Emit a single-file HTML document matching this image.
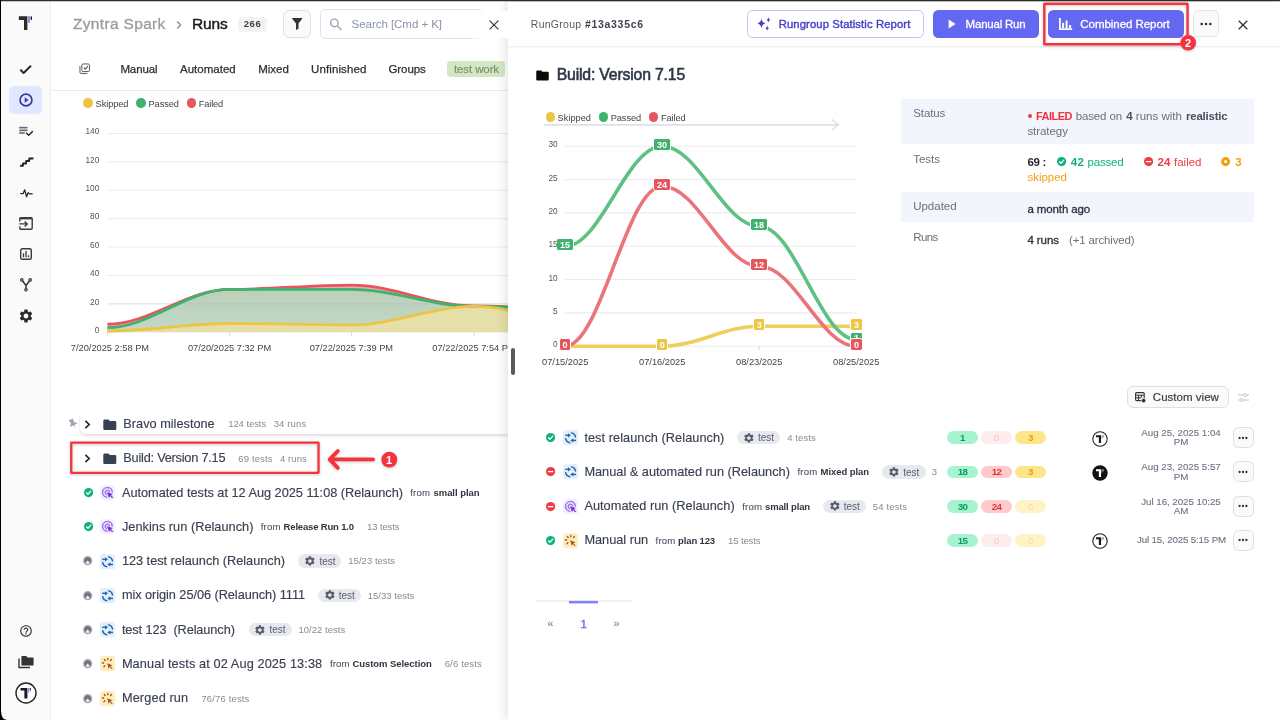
<!DOCTYPE html>
<html>
<head>
<meta charset="utf-8">
<title>Runs</title>
<style>
*{box-sizing:border-box;margin:0;padding:0}
html,body{width:1280px;height:720px;overflow:hidden;background:#fff}
body{font-family:"Liberation Sans",sans-serif;color:#1f2937;position:relative}
.a{position:absolute}
.t{position:absolute;white-space:pre;line-height:20px;height:20px}
svg{position:absolute;overflow:visible}
#frameTop{left:0;top:0;width:1280px;height:2px;background:linear-gradient(#2e2e2e 0,#2e2e2e 50%,rgba(46,46,46,.28) 50%,rgba(46,46,46,.28) 100%);z-index:50}
#frameLeft{left:0;top:0;width:1px;height:720px;background:#000;z-index:50;box-shadow:0 0 .6px rgba(0,0,0,.6)}
#sidebar{left:1px;top:2px;width:50px;height:718px;background:#fafafa;border-right:1px solid #efefef}
#left{left:0;top:0;width:510px;height:720px;overflow:hidden;z-index:1;will-change:transform}
#rightbg{left:508px;top:2px;width:772px;height:718px;background:#fff;box-shadow:-4px 0 8px rgba(0,0,0,.09);z-index:10}
#right{left:0;top:0;width:1280px;height:720px;z-index:11;will-change:transform}
</style>
</head>
<body>
<div class="a" id="frameTop"></div>
<div class="a" id="frameLeft"></div>
<svg style="left:0;top:712px;z-index:51" width="8" height="8" viewBox="0 0 8 8"><path d="M0 0 V8 H7 Q1.300 7.500 1.200 0Z" fill="#000"/></svg>
<div class="a" id="sidebar"></div>
<div class="a" id="sb" style="left:0;top:0;width:51px;height:720px;z-index:2">
  <!-- logo -->
  <svg style="left:18px;top:15px" width="16" height="16" viewBox="0 0 16 16">
    <path d="M1.2 1.2 H9.4 V14.6 Q9.4 15 9 15 H6.4 Q6 15 6 14.600 V5 H1.200 Q0.800 5 0.800 4.600 V1.600 Q0.800 1.200 1.200 1.200Z" fill="#2b2b2b"/>
    <rect x="10" y="1.200" width="2" height="6.600" fill="#8b93f8"/>
    <rect x="12.600" y="1.200" width="1.400" height="3.800" rx=".6" fill="#222"/>
  </svg>
  <!-- check -->
  <svg style="left:18.400px;top:62.200px" width="15" height="15" viewBox="0 0 24 24"><path d="M9 16.170L4.830 12l-1.420 1.410L9 19 21 7l-1.410-1.410z" fill="#222" stroke="#222" stroke-width="1.600"/></svg>
  <!-- active -->
  <div class="a" style="left:9px;top:86px;width:33px;height:28px;border-radius:5px;background:#e0e7ff"></div>
  <svg style="left:17.600px;top:91.700px" width="16" height="16" viewBox="0 0 24 24"><circle cx="12" cy="12" r="8.900" fill="none" stroke="#3d35a8" stroke-width="2.500"/><path d="M10 16.300l5.800-4.300-5.800-4.300z" fill="#3d35a8"/></svg>
  <!-- playlist check -->
  <svg style="left:18px;top:123px" width="16" height="16" viewBox="0 0 24 24"><path d="M14 10H2v2h12v-2zm0-4H2v2h12V6zM2 16h8v-2H2v2z" fill="#6a6a6a" stroke="#6a6a6a" stroke-width=".5"/><path d="M21.500 11.500L23 13l-6.990 7-4.510-4.500L13 14l3.010 3 5.490-5.500z" fill="#222"/></svg>
  <!-- stairs -->
  <svg style="left:19.500px;top:156px" width="13" height="12" viewBox="0 0 13 12"><path d="M0.500 9.800 H3.200 V7.400 H5.900 V5 H8.600 V2.600 H12.600" fill="none" stroke="#222" stroke-width="2" stroke-linejoin="miter" transform="skewX(-10) translate(1.300 0)"/></svg>
  <!-- pulse -->
  <svg style="left:19.500px;top:186.500px" width="13" height="13" viewBox="0 0 13 13"><path d="M0.700 6.600 H3.200 L4.700 2.800 L6.600 9.800 L8.100 5.600 L9.300 6.900 H12.200" fill="none" stroke="#2a2a2a" stroke-width="1.300" stroke-linejoin="round" stroke-linecap="round"/></svg>
  <!-- import -->
  <svg style="left:19px;top:217px" width="14" height="13" viewBox="0 0 14 13"><path d="M0.800 4.600 V2 Q0.800 0.800 2 0.800 H12 Q13.200 0.800 13.200 2 V11 Q13.200 12.200 12 12.200 H2 Q0.800 12.200 0.800 11 V9.200" fill="none" stroke="#3a3a3a" stroke-width="1.400"/><rect x="0.800" y="0.800" width="12.400" height="1.600" fill="#3a3a3a"/><path d="M0.300 6.900 H8 M5.600 4.400 L8.200 6.900 L5.600 9.400" fill="none" stroke="#3a3a3a" stroke-width="1.400"/></svg>
  <!-- chart box -->
  <svg style="left:20px;top:248px" width="12" height="12" viewBox="0 0 12 12"><rect x="0.700" y="0.700" width="10.600" height="10.600" rx="1.600" fill="none" stroke="#3a3a3a" stroke-width="1.400"/><path d="M3.500 9.300 V5.200 M6 9.300 V2.900 M8.500 9.300 V7.200" stroke="#3a3a3a" stroke-width="1.300" fill="none"/></svg>
  <!-- fork -->
  <svg style="left:20px;top:278px" width="12" height="14" viewBox="0 0 12 14"><path d="M1.800 2 L6 7.500 L10.200 2 M6 7.500 V11.500" fill="none" stroke="#333" stroke-width="1.500"/><circle cx="1.800" cy="1.900" r="1.200" fill="#fafafa" stroke="#333" stroke-width="1.200"/><circle cx="10.200" cy="1.900" r="1.200" fill="#fafafa" stroke="#333" stroke-width="1.200"/><circle cx="6" cy="11.800" r="1.200" fill="#fafafa" stroke="#333" stroke-width="1.200"/></svg>
  <!-- gear -->
  <svg style="left:18px;top:308px" width="16" height="16" viewBox="0 0 24 24"><path d="M19.140 12.940c.040-.300.060-.610.060-.940 0-.320-.020-.640-.070-.940l2.030-1.580c.180-.140.230-.410.120-.610l-1.920-3.320c-.120-.220-.370-.290-.590-.220l-2.390.960c-.500-.380-1.030-.700-1.620-.940l-.360-2.540c-.040-.240-.240-.410-.480-.410h-3.840c-.240 0-.430.170-.470.410l-.360 2.540c-.590.240-1.130.570-1.620.940l-2.390-.960c-.220-.080-.470 0-.590.220L2.740 8.870c-.120.210-.080.470.120.610l2.030 1.580c-.050.300-.090.630-.090.940s.020.640.070.940l-2.030 1.580c-.180.140-.230.410-.120.610l1.920 3.320c.120.220.370.290.590.220l2.390-.960c.500.380 1.030.700 1.620.940l.360 2.540c.050.240.240.410.480.410h3.840c.240 0 .440-.170.470-.410l.360-2.540c.590-.240 1.130-.560 1.620-.940l2.390.960c.220.080.470 0 .590-.220l1.920-3.320c.120-.220.070-.470-.120-.610l-2.010-1.580zM12 15.600c-1.980 0-3.600-1.620-3.600-3.600s1.620-3.600 3.600-3.600 3.600 1.620 3.600 3.600-1.620 3.600-3.600 3.600z" fill="#2b2b2b"/></svg>
  <!-- help -->
  <svg style="left:19px;top:624px" width="14" height="14" viewBox="0 0 24 24"><path d="M11 18h2v-2h-2v2zm1-16C6.480 2 2 6.480 2 12s4.480 10 10 10 10-4.480 10-10S17.520 2 12 2zm0 18c-4.410 0-8-3.590-8-8s3.590-8 8-8 8 3.590 8 8-3.590 8-8 8zm0-14c-2.210 0-4 1.790-4 4h2c0-1.100.900-2 2-2s2 .900 2 2c0 2-3 1.750-3 5h2c0-2.250 3-2.500 3-5 0-2.210-1.790-4-4-4z" fill="#333"/></svg>
  <!-- folders -->
  <svg style="left:18px;top:655px" width="16" height="14" viewBox="0 0 16 14"><path d="M1 3.500 V12.500 H12" fill="none" stroke="#333" stroke-width="1.400"/><path d="M4 1 H8.200 L9.600 2.600 H15 Q15.600 2.600 15.600 3.200 V10 Q15.600 10.600 15 10.600 H4 Q3.400 10.600 3.400 10 V1.600 Q3.400 1 4 1Z" fill="#333"/></svg>
  <!-- avatar -->
  <svg style="left:14.800px;top:681.600px" width="22" height="22" viewBox="0 0 22 22"><circle cx="11" cy="11" r="10" fill="#fff" stroke="#222" stroke-width="1.400"/><path d="M5.500 6 H12.400 V16.600 H9.400 V8.600 H5.500Z" fill="#1a1a1a"/><rect x="13" y="6" width="1.300" height="4.600" fill="#8b93f8"/><rect x="14.800" y="6" width="1" height="2.600" fill="#222"/></svg>
</div>

<!-- LEFT PANEL -->
<div class="a" id="left">
<span class="t" style="left:72.90px;top:14.20px;font-size:15.5px;color:#9b9b9b;letter-spacing:0.339px;-webkit-text-stroke:0.3px #9b9b9b;">Zyntra Spark</span>
<svg style="left:176px;top:19.500px" width="6" height="10" viewBox="0 0 6 10"><path d="M1.200 1.500 L4.600 5 L1.200 8.500" fill="none" stroke="#8a8a8a" stroke-width="1.300"/></svg>
<span class="t" style="left:192.00px;top:14.20px;font-size:15.5px;color:#1b1b1b;letter-spacing:-0.147px;-webkit-text-stroke:0.45px #1b1b1b;">Runs</span>
<div class="a" style="left:238px;top:17px;width:29px;height:14.600px;border-radius:4px;background:#f3f3f4"></div>
<span class="t" style="left:243.75px;top:14.40px;font-size:9.5px;color:#3f3f46;font-weight:700;letter-spacing:0.547px;">266</span>
<div class="a" style="left:283.300px;top:10.400px;width:27.300px;height:27.800px;border-radius:6px;background:#fafafa;border:1px solid #dfdfdf"></div>
<svg style="left:291.600px;top:18.300px" width="10.400" height="12" viewBox="0 0 10.400 12"><path d="M0.500 0 H9.900 Q10.600 0.100 10.200 0.800 L6.500 5.400 V10.800 L4 12 V5.400 L0.200 0.800 Q-0.200 0.100 0.500 0Z" fill="#353535"/></svg>
<div class="a" style="left:320.200px;top:9.400px;width:164px;height:29.600px;border-radius:5.500px;background:#fff;border:1px solid #dbdfe9"></div>
<svg style="left:329px;top:17px" width="14" height="14" viewBox="0 0 14 14"><circle cx="5.400" cy="5.900" r="3.800" fill="none" stroke="#9ba5b8" stroke-width="1.400"/><path d="M8.200 8.700 L12.500 13" stroke="#9ba5b8" stroke-width="1.500" fill="none"/></svg>
<span class="t" style="left:351.60px;top:14.40px;font-size:11.5px;color:#8a94a8;letter-spacing:-0.043px;">Search [Cmd + K]</span>
<div class="a" style="left:466px;top:10.400px;width:16px;height:28.600px;background:linear-gradient(90deg,rgba(255,255,255,0),rgba(255,255,255,.85))"></div>
<div class="a" style="left:480.500px;top:10.600px;width:30px;height:27.800px;border-radius:5px;background:#fff"></div>
<svg style="left:78.800px;top:63px" width="11.400" height="11.400" viewBox="0 0 12 12"><path d="M1 3.200 V10 Q1 11 2 11 H8.800" fill="none" stroke="#555" stroke-width="1"/><rect x="3" y="1" width="8" height="8" rx="1.300" fill="none" stroke="#555" stroke-width="1"/><path d="M5 4.900 L6.600 6.500 L9.400 3.200" fill="none" stroke="#555" stroke-width="1.100"/></svg>
<span class="t" style="left:120.40px;top:58.80px;font-size:11.5px;color:#2f2f2f;letter-spacing:-0.103px;-webkit-text-stroke:0.25px #2f2f2f;">Manual</span>
<span class="t" style="left:180.00px;top:58.80px;font-size:11.5px;color:#2f2f2f;letter-spacing:0.008px;-webkit-text-stroke:0.25px #2f2f2f;">Automated</span>
<span class="t" style="left:258.20px;top:58.80px;font-size:11.5px;color:#2f2f2f;letter-spacing:-0.017px;-webkit-text-stroke:0.25px #2f2f2f;">Mixed</span>
<span class="t" style="left:311.00px;top:58.80px;font-size:11.5px;color:#2f2f2f;letter-spacing:0.116px;-webkit-text-stroke:0.25px #2f2f2f;">Unfinished</span>
<span class="t" style="left:388.40px;top:58.80px;font-size:11.5px;color:#2f2f2f;letter-spacing:-0.053px;-webkit-text-stroke:0.25px #2f2f2f;">Groups</span>
<div class="a" style="left:447.300px;top:61px;width:57.700px;height:15.800px;border-radius:4px;background:#d3e8c2"></div>
<span class="t" style="left:454.00px;top:58.80px;font-size:11.5px;color:#7f8f78;letter-spacing:-0.113px;-webkit-text-stroke:0.2px #7f8f78;">test work</span>
<div class="a" style="left:51px;top:89.600px;width:460px;height:1px;background:#ececec"></div>
<div class="a" style="left:83.39999999999999px;top:98.2px;width:9.400px;height:9.400px;border-radius:50%;background:#ecc545"></div>
<span class="t" style="left:95.60px;top:93.60px;font-size:9.25px;color:#444;letter-spacing:-0.091px;">Skipped</span>
<div class="a" style="left:136.3px;top:98.2px;width:9.400px;height:9.400px;border-radius:50%;background:#3fb36d"></div>
<span class="t" style="left:148.50px;top:93.60px;font-size:9.25px;color:#444;letter-spacing:-0.077px;">Passed</span>
<div class="a" style="left:186.60000000000002px;top:98.2px;width:9.400px;height:9.400px;border-radius:50%;background:#e5565d"></div>
<span class="t" style="left:198.80px;top:93.60px;font-size:9.25px;color:#444;letter-spacing:-0.151px;">Failed</span>
<svg style="left:0;top:0" width="511" height="400" viewBox="0 0 511 400"><path d="M107.400 332.25 H511" stroke="#ededed" stroke-width="1.100"/><path d="M107.400 303.85 H511" stroke="#ededed" stroke-width="1.100"/><path d="M107.400 275.45 H511" stroke="#ededed" stroke-width="1.100"/><path d="M107.400 247.05 H511" stroke="#ededed" stroke-width="1.100"/><path d="M107.400 218.65 H511" stroke="#ededed" stroke-width="1.100"/><path d="M107.400 190.25 H511" stroke="#ededed" stroke-width="1.100"/><path d="M107.400 161.85 H511" stroke="#ededed" stroke-width="1.100"/><path d="M107.400 133.45 H511" stroke="#ededed" stroke-width="1.100"/><path d="M107.4 332.0 V336.0" stroke="#dcdcdc" stroke-width="1"/><path d="M229.6 332.0 V336.0" stroke="#dcdcdc" stroke-width="1"/><path d="M351.4 332.0 V336.0" stroke="#dcdcdc" stroke-width="1"/><path d="M474.0 332.0 V336.0" stroke="#dcdcdc" stroke-width="1"/><defs><linearGradient id="gg" x1="0" y1="0" x2="0" y2="1"><stop offset="0" stop-color="#bccfb8"/><stop offset="1" stop-color="#c0d9c9"/></linearGradient></defs><clipPath id="lc"><rect x="107.400" y="120" width="405" height="212.300"/></clipPath><g clip-path="url(#lc)"><path d="M107.4 324.2 C150.2 324.2 186.8 289.4 229.6 289.4 C272.2 289.4 308.8 285.1 351.4 285.1 C394.3 285.1 431.1 306.0 474.0 306.0 C516.7 306.0 553.3 310.7 596.0 310.7 L596.0 332.0 L107.4 332.0Z" fill="#f3aaac"/><path d="M107.4 327.7 C150.2 327.7 186.8 289.4 229.6 289.4 C272.2 289.4 308.8 289.4 351.4 289.4 C394.3 289.4 431.1 306.4 474.0 306.4 C516.7 306.4 553.3 309.3 596.0 309.3 L596.0 332.0 L107.4 332.0Z" fill="url(#gg)"/><path d="M107.4 331.0 C150.2 331.0 186.8 323.5 229.6 323.5 C272.2 323.5 308.8 324.9 351.4 324.9 C394.3 324.9 431.1 306.4 474.0 306.4 C516.7 306.4 553.3 326.3 596.0 326.3 L596.0 332.0 L107.4 332.0Z" fill="#e6dfa8"/><path d="M107.400 303.850 H511" stroke="rgba(120,140,120,.12)" stroke-width="1"/></g><clipPath id="lc2"><rect x="106" y="120" width="405" height="216"/></clipPath><g clip-path="url(#lc2)"><path d="M107.4 324.2 C150.2 324.2 186.8 289.4 229.6 289.4 C272.2 289.4 308.8 285.1 351.4 285.1 C394.3 285.1 431.1 306.0 474.0 306.0 C516.7 306.0 553.3 310.7 596.0 310.7" fill="none" stroke="#e5565d" stroke-width="2.800"/><path d="M107.4 327.7 C150.2 327.7 186.8 289.4 229.6 289.4 C272.2 289.4 308.8 289.4 351.4 289.4 C394.3 289.4 431.1 306.4 474.0 306.4 C516.7 306.4 553.3 309.3 596.0 309.3" fill="none" stroke="#3fb36d" stroke-width="2.800"/><path d="M107.4 331.0 C150.2 331.0 186.8 323.5 229.6 323.5 C272.2 323.5 308.8 324.9 351.4 324.9 C394.3 324.9 431.1 306.4 474.0 306.4 C516.7 306.4 553.3 326.3 596.0 326.3" fill="none" stroke="#ecc545" stroke-width="2.800"/></g></svg>
<span class="t" style="left:94.71px;top:320.90px;font-size:8.25px;color:#555;">0</span>
<span class="t" style="left:90.11px;top:292.50px;font-size:8.25px;color:#555;">20</span>
<span class="t" style="left:90.11px;top:264.10px;font-size:8.25px;color:#555;">40</span>
<span class="t" style="left:90.11px;top:235.70px;font-size:8.25px;color:#555;">60</span>
<span class="t" style="left:90.11px;top:207.30px;font-size:8.25px;color:#555;">80</span>
<span class="t" style="left:85.53px;top:178.90px;font-size:8.25px;color:#555;">100</span>
<span class="t" style="left:85.53px;top:150.50px;font-size:8.25px;color:#555;">120</span>
<span class="t" style="left:85.53px;top:122.10px;font-size:8.25px;color:#555;">140</span>
<div class="a" style="left:71px;top:336px;width:440px;height:24px;overflow:hidden"><div class="a" style="left:-71px;top:-336px;width:600px;height:400px">
<span class="t" style="left:65.70px;top:338.40px;font-size:9.25px;color:#444;">07/20/2025 2:58 PM</span>
<span class="t" style="left:187.90px;top:338.40px;font-size:9.25px;color:#444;">07/20/2025 7:32 PM</span>
<span class="t" style="left:309.70px;top:338.40px;font-size:9.25px;color:#444;">07/22/2025 7:39 PM</span>
<span class="t" style="left:432.30px;top:338.40px;font-size:9.25px;color:#444;">07/22/2025 7:54 PM</span>
</div></div>
<div class="a" style="left:80px;top:411px;width:440px;height:23.400px;border-radius:6px 0 0 6px;background:#fff;box-shadow:0 2px 3px rgba(0,0,0,.13)"></div>
<svg style="left:67.800px;top:417.600px" width="10.800" height="12" viewBox="0 0 9 10"><path d="M2.200 0.600 L6 0.600 L5.600 3.600 L8 6 L4.800 6 L4.500 9.600 L4 6 L0.800 6 L3 3.600Z" fill="#9ca3b3" transform="rotate(-25 4.500 5)"/></svg>
<svg style="left:84px;top:420.30000000000007px" width="7" height="9" viewBox="0 0 7 9"><path d="M1.400 0.900 L5.200 4.500 L1.400 8.100" fill="none" stroke="#222" stroke-width="1.600"/></svg>
<svg style="left:102.100px;top:416.50000000000006px" width="15.600" height="15.600" viewBox="0 0 24 24"><path d="M10 4H4c-1.100 0-1.990.900-1.990 2L2 18c0 1.100.900 2 2 2h16c1.100 0 2-.900 2-2V8c0-1.100-.900-2-2-2h-8l-2-2z" fill="#364152"/></svg>
<span class="t" style="left:123.30px;top:413.60px;font-size:12.75px;color:#3a4150;-webkit-text-stroke:0.15px #3a4150;">Bravo milestone</span>
<span class="t" style="left:228.20px;top:413.90px;font-size:9.5px;color:#868b95;letter-spacing:-0.074px;">124 tests</span>
<span class="t" style="left:273.70px;top:413.90px;font-size:9.5px;color:#868b95;letter-spacing:0.130px;">34 runs</span>
<svg style="left:84px;top:454.3px" width="7" height="9" viewBox="0 0 7 9"><path d="M1.400 0.900 L5.200 4.500 L1.400 8.100" fill="none" stroke="#222" stroke-width="1.600"/></svg>
<svg style="left:102.100px;top:450.5px" width="15.600" height="15.600" viewBox="0 0 24 24"><path d="M10 4H4c-1.100 0-1.990.900-1.990 2L2 18c0 1.100.900 2 2 2h16c1.100 0 2-.900 2-2V8c0-1.100-.900-2-2-2h-8l-2-2z" fill="#364152"/></svg>
<span class="t" style="left:123.30px;top:448.20px;font-size:12.75px;color:#3a4150;letter-spacing:-0.228px;-webkit-text-stroke:0.15px #3a4150;">Build: Version 7.15</span>
<span class="t" style="left:238.30px;top:448.50px;font-size:9.5px;color:#868b95;letter-spacing:0.127px;">69 tests</span>
<span class="t" style="left:279.90px;top:448.50px;font-size:9.5px;color:#868b95;letter-spacing:0.099px;">4 runs</span>
<svg style="left:0;top:0;filter:drop-shadow(0 1px 1.500px rgba(0,0,0,.22))" width="511" height="720" viewBox="0 0 511 720"><rect x="71.250" y="442.550" width="247.300" height="30.300" rx="0.300" fill="none" stroke="#f5333f" stroke-width="2.300"/><path d="M330.300 459.400 H373" stroke="#f5333f" stroke-width="3.900" stroke-linecap="round" fill="none"/><path d="M337.800 451 L329.700 459.400 L337.800 467.800" stroke="#f5333f" stroke-width="3.900" stroke-linecap="round" stroke-linejoin="round" fill="none"/><circle cx="389.300" cy="459.700" r="7.900" fill="#f5333f"/></svg>
<span class="t" style="left:386.04px;top:449.70px;font-size:11px;color:#fff;font-weight:700;">1</span>
<svg style="left:83.5px;top:488.09999999999997px" width="9.2" height="9.2" viewBox="0 0 10 10"><circle cx="5" cy="5" r="5" fill="#10b27a"/><path d="M2.700 5.200 L4.300 6.800 L7.400 3.500" fill="none" stroke="#fff" stroke-width="1.300" stroke-linecap="round" stroke-linejoin="round"/></svg>
<svg style="left:100px;top:485.2px" width="15.2" height="15.2" viewBox="0 0 14 14"><rect width="14" height="14" rx="3" fill="#f5f0ff"/><path d="M11.300 6.300 A4.500 4.500 0 1 0 6.300 11.300" fill="none" stroke="#a178ee" stroke-width="1.500" stroke-linecap="round"/><path d="M8.900 6.200 A2.100 2.100 0 1 0 6.200 8.900" fill="none" stroke="#a178ee" stroke-width="1.400" stroke-linecap="round"/><path d="M6.900 6.900 L11.400 8.500 L9.700 9.300 L11.900 11.500 L11.400 12 L9.200 9.800 L8.400 11.500Z" fill="#6a2ed8" stroke="#6a2ed8" stroke-width=".5" stroke-linejoin="round"/></svg>
<span class="t" style="left:121.90px;top:482.70px;font-size:12.75px;color:#3a4150;letter-spacing:-0.016px;-webkit-text-stroke:0.15px #3a4150;">Automated tests at 12 Aug 2025 11:08 (Relaunch)</span>
<span class="t" style="left:410.30px;top:483.00px;font-size:9.6px;color:#4b5563;letter-spacing:0.128px;-webkit-text-stroke:0.1px #4b5563;">from</span>
<span class="t" style="left:433.50px;top:483.00px;font-size:9.5px;color:#2f3540;font-weight:700;letter-spacing:-0.047px;">small plan</span>
<svg style="left:83.5px;top:522.1999999999999px" width="9.2" height="9.2" viewBox="0 0 10 10"><circle cx="5" cy="5" r="5" fill="#10b27a"/><path d="M2.700 5.200 L4.300 6.800 L7.400 3.500" fill="none" stroke="#fff" stroke-width="1.300" stroke-linecap="round" stroke-linejoin="round"/></svg>
<svg style="left:100px;top:519.3px" width="15.2" height="15.2" viewBox="0 0 14 14"><rect width="14" height="14" rx="3" fill="#f5f0ff"/><path d="M11.300 6.300 A4.500 4.500 0 1 0 6.300 11.300" fill="none" stroke="#a178ee" stroke-width="1.500" stroke-linecap="round"/><path d="M8.900 6.200 A2.100 2.100 0 1 0 6.200 8.900" fill="none" stroke="#a178ee" stroke-width="1.400" stroke-linecap="round"/><path d="M6.900 6.900 L11.400 8.500 L9.700 9.300 L11.900 11.500 L11.400 12 L9.200 9.800 L8.400 11.500Z" fill="#6a2ed8" stroke="#6a2ed8" stroke-width=".5" stroke-linejoin="round"/></svg>
<span class="t" style="left:121.90px;top:516.80px;font-size:12.75px;color:#3a4150;letter-spacing:0.022px;-webkit-text-stroke:0.15px #3a4150;">Jenkins run (Relaunch)</span>
<span class="t" style="left:260.80px;top:517.10px;font-size:9.6px;color:#4b5563;letter-spacing:0.128px;-webkit-text-stroke:0.1px #4b5563;">from</span>
<span class="t" style="left:283.60px;top:517.10px;font-size:9.5px;color:#2f3540;font-weight:700;letter-spacing:-0.172px;">Release Run 1.0</span>
<span class="t" style="left:367.00px;top:517.10px;font-size:9.5px;color:#868b95;letter-spacing:-0.110px;">13 tests</span>
<svg style="left:83.39999999999999px;top:556.4px" width="9.4" height="9.4" viewBox="0 0 10 10"><circle cx="5" cy="5" r="4.900" fill="#a1a6b0"/><circle cx="5" cy="4.900" r="3.300" fill="#6c7280"/><path d="M5 5 L3.300 7.700 Q5 8.500 6.700 7.700Z" fill="#fff" stroke="#fff" stroke-width=".6" stroke-linejoin="round"/></svg>
<svg style="left:100px;top:553.6px" width="15.2" height="15.2" viewBox="0 0 14 14"><rect width="14" height="14" rx="3" fill="#e3effd"/><path d="M7.800 2.670 A4.600 4.600 0 0 1 11.530 6.400" fill="none" stroke="#2468ab" stroke-width="1.350" stroke-linecap="round"/><path d="M6.200 11.730 A4.600 4.600 0 0 1 2.470 8" fill="none" stroke="#2468ab" stroke-width="1.350" stroke-linecap="round"/><path d="M2.100 4.900 H5.200" stroke="#2468ab" stroke-width="1.400" fill="none"/><path d="M4.600 2.900 L7.400 4.900 L4.600 6.900Z" fill="#2468ab"/><path d="M12 9.600 H8.900" stroke="#2468ab" stroke-width="1.400" fill="none"/><path d="M9.500 7.600 L6.700 9.600 L9.500 11.600Z" fill="#2468ab"/></svg>
<span class="t" style="left:121.90px;top:551.10px;font-size:12.75px;color:#3a4150;letter-spacing:-0.023px;-webkit-text-stroke:0.15px #3a4150;">123 test relaunch (Relaunch)</span>
<div class="a" style="left:298.4px;top:554.4px;width:43px;height:13.4px;border-radius:7px;background:#e8e9ee"></div><svg style="left:304.29999999999995px;top:555.2px" width="11.800" height="11.800" viewBox="0 0 24 24"><path d="M19.140 12.940c.040-.300.060-.610.060-.940 0-.320-.020-.640-.070-.940l2.030-1.580c.180-.140.230-.410.120-.610l-1.920-3.320c-.120-.220-.370-.290-.590-.220l-2.390.960c-.500-.380-1.030-.700-1.620-.940l-.360-2.540c-.040-.240-.240-.410-.480-.410h-3.840c-.240 0-.430.170-.470.410l-.360 2.540c-.590.240-1.130.570-1.620.940l-2.390-.960c-.220-.080-.470 0-.590.220L2.740 8.870c-.120.210-.080.470.120.610l2.030 1.580c-.050.300-.090.630-.090.940s.020.640.070.940l-2.030 1.580c-.180.140-.230.410-.120.610l1.920 3.320c.120.220.370.290.590.220l2.390-.960c.500.380 1.030.700 1.620.940l.360 2.540c.050.240.240.410.480.410h3.840c.240 0 .440-.170.470-.410l.360-2.540c.590-.240 1.130-.560 1.620-.940l2.390.960c.220.080.470 0 .590-.220l1.920-3.320c.120-.220.070-.470-.120-.610l-2.010-1.580zM12 15.600c-1.980 0-3.600-1.620-3.600-3.600s1.620-3.600 3.600-3.600 3.600 1.620 3.600 3.600-1.620 3.600-3.600 3.600z" fill="#555b6b"/></svg><span class="t" style="left:319.40px;top:551.80px;font-size:10px;color:#596070;letter-spacing:-0.031px;">test</span>
<span class="t" style="left:348.30px;top:551.40px;font-size:9.5px;color:#868b95;letter-spacing:0.029px;">15/23 tests</span>
<svg style="left:83.39999999999999px;top:590.5px" width="9.4" height="9.4" viewBox="0 0 10 10"><circle cx="5" cy="5" r="4.900" fill="#a1a6b0"/><circle cx="5" cy="4.900" r="3.300" fill="#6c7280"/><path d="M5 5 L3.300 7.700 Q5 8.500 6.700 7.700Z" fill="#fff" stroke="#fff" stroke-width=".6" stroke-linejoin="round"/></svg>
<svg style="left:100px;top:587.7px" width="15.2" height="15.2" viewBox="0 0 14 14"><rect width="14" height="14" rx="3" fill="#e3effd"/><path d="M7.800 2.670 A4.600 4.600 0 0 1 11.530 6.400" fill="none" stroke="#2468ab" stroke-width="1.350" stroke-linecap="round"/><path d="M6.200 11.730 A4.600 4.600 0 0 1 2.470 8" fill="none" stroke="#2468ab" stroke-width="1.350" stroke-linecap="round"/><path d="M2.100 4.900 H5.200" stroke="#2468ab" stroke-width="1.400" fill="none"/><path d="M4.600 2.900 L7.400 4.900 L4.600 6.900Z" fill="#2468ab"/><path d="M12 9.600 H8.900" stroke="#2468ab" stroke-width="1.400" fill="none"/><path d="M9.500 7.600 L6.700 9.600 L9.500 11.600Z" fill="#2468ab"/></svg>
<span class="t" style="left:121.90px;top:585.20px;font-size:12.75px;color:#3a4150;letter-spacing:-0.056px;-webkit-text-stroke:0.15px #3a4150;">mix origin 25/06 (Relaunch) 1111</span>
<div class="a" style="left:317.7px;top:588.5px;width:43px;height:13.4px;border-radius:7px;background:#e8e9ee"></div><svg style="left:323.59999999999997px;top:589.3000000000001px" width="11.800" height="11.800" viewBox="0 0 24 24"><path d="M19.140 12.940c.040-.300.060-.610.060-.940 0-.320-.020-.640-.070-.940l2.030-1.580c.180-.140.230-.410.120-.610l-1.920-3.320c-.120-.220-.370-.290-.590-.220l-2.390.960c-.500-.380-1.030-.700-1.620-.940l-.360-2.540c-.040-.240-.240-.410-.480-.410h-3.840c-.240 0-.430.170-.470.410l-.360 2.540c-.590.240-1.130.570-1.620.940l-2.390-.960c-.220-.080-.470 0-.590.220L2.740 8.870c-.120.210-.080.470.120.610l2.030 1.580c-.050.300-.090.630-.090.940s.020.640.070.940l-2.030 1.580c-.180.140-.230.410-.120.610l1.920 3.320c.120.220.370.290.590.220l2.390-.960c.500.380 1.030.700 1.620.940l.360 2.540c.050.240.240.410.480.410h3.840c.240 0 .440-.170.470-.410l.360-2.540c.590-.240 1.130-.560 1.620-.940l2.390.960c.220.080.470 0 .590-.220l1.920-3.320c.120-.220.070-.470-.120-.610l-2.010-1.580zM12 15.600c-1.980 0-3.600-1.620-3.600-3.600s1.620-3.600 3.600-3.600 3.600 1.620 3.600 3.600-1.620 3.600-3.600 3.600z" fill="#555b6b"/></svg><span class="t" style="left:338.70px;top:585.90px;font-size:10px;color:#596070;letter-spacing:-0.031px;">test</span>
<span class="t" style="left:367.70px;top:585.50px;font-size:9.5px;color:#868b95;letter-spacing:0.020px;">15/33 tests</span>
<svg style="left:83.39999999999999px;top:625.0px" width="9.4" height="9.4" viewBox="0 0 10 10"><circle cx="5" cy="5" r="4.900" fill="#a1a6b0"/><circle cx="5" cy="4.900" r="3.300" fill="#6c7280"/><path d="M5 5 L3.300 7.700 Q5 8.500 6.700 7.700Z" fill="#fff" stroke="#fff" stroke-width=".6" stroke-linejoin="round"/></svg>
<svg style="left:100px;top:622.2px" width="15.2" height="15.2" viewBox="0 0 14 14"><rect width="14" height="14" rx="3" fill="#e3effd"/><path d="M7.800 2.670 A4.600 4.600 0 0 1 11.530 6.400" fill="none" stroke="#2468ab" stroke-width="1.350" stroke-linecap="round"/><path d="M6.200 11.730 A4.600 4.600 0 0 1 2.470 8" fill="none" stroke="#2468ab" stroke-width="1.350" stroke-linecap="round"/><path d="M2.100 4.900 H5.200" stroke="#2468ab" stroke-width="1.400" fill="none"/><path d="M4.600 2.900 L7.400 4.900 L4.600 6.900Z" fill="#2468ab"/><path d="M12 9.600 H8.900" stroke="#2468ab" stroke-width="1.400" fill="none"/><path d="M9.500 7.600 L6.700 9.600 L9.500 11.600Z" fill="#2468ab"/></svg>
<span class="t" style="left:121.90px;top:619.70px;font-size:12.75px;color:#3a4150;letter-spacing:-0.096px;-webkit-text-stroke:0.15px #3a4150;">test 123  (Relaunch)</span>
<div class="a" style="left:248.5px;top:623.0px;width:43px;height:13.4px;border-radius:7px;background:#e8e9ee"></div><svg style="left:254.4px;top:623.8000000000001px" width="11.800" height="11.800" viewBox="0 0 24 24"><path d="M19.140 12.940c.040-.300.060-.610.060-.940 0-.320-.020-.640-.070-.940l2.030-1.580c.180-.140.230-.410.120-.610l-1.920-3.320c-.120-.220-.370-.290-.590-.220l-2.390.960c-.500-.380-1.030-.700-1.620-.940l-.360-2.540c-.040-.240-.240-.410-.480-.410h-3.840c-.240 0-.430.170-.470.410l-.360 2.540c-.590.240-1.130.570-1.620.940l-2.390-.960c-.220-.080-.470 0-.590.220L2.740 8.870c-.120.210-.080.470.120.610l2.030 1.580c-.050.300-.090.630-.090.940s.020.640.070.940l-2.030 1.580c-.180.140-.230.410-.120.610l1.920 3.320c.120.220.370.290.590.220l2.390-.960c.500.380 1.030.700 1.620.940l.360 2.540c.050.240.240.410.480.410h3.840c.240 0 .440-.170.470-.410l.360-2.540c.590-.240 1.130-.560 1.620-.940l2.390.960c.220.080.470 0 .590-.220l1.920-3.320c.120-.220.070-.470-.120-.610l-2.010-1.580zM12 15.600c-1.980 0-3.600-1.620-3.600-3.600s1.620-3.600 3.600-3.600 3.600 1.620 3.600 3.600-1.620 3.600-3.600 3.600z" fill="#555b6b"/></svg><span class="t" style="left:269.50px;top:620.40px;font-size:10px;color:#596070;letter-spacing:-0.031px;">test</span>
<span class="t" style="left:298.40px;top:620.00px;font-size:9.5px;color:#868b95;letter-spacing:0.029px;">10/22 tests</span>
<svg style="left:83.39999999999999px;top:659.0999999999999px" width="9.4" height="9.4" viewBox="0 0 10 10"><circle cx="5" cy="5" r="4.900" fill="#a1a6b0"/><circle cx="5" cy="4.900" r="3.300" fill="#6c7280"/><path d="M5 5 L3.300 7.700 Q5 8.500 6.700 7.700Z" fill="#fff" stroke="#fff" stroke-width=".6" stroke-linejoin="round"/></svg>
<svg style="left:100px;top:656.3px" width="15.2" height="15.2" viewBox="0 0 14 14"><rect width="14" height="14" rx="3" fill="#fdeebf"/><path d="M6.600 6.600 L11.600 8.500 L9.600 9.400 L11.700 11.500 L11 12.200 L8.900 10.100 L8 12Z" fill="#b4551a"/><path d="M7.200 2.200 V3.400 M4 3.200 L4.800 4.200 M2.200 6.400 H3.400 M3.600 9.800 L4.400 9 M10.400 3.200 L9.800 4.200" stroke="#b4551a" stroke-width="1.300" stroke-linecap="round" fill="none"/></svg>
<span class="t" style="left:121.90px;top:653.80px;font-size:12.75px;color:#3a4150;letter-spacing:0.101px;-webkit-text-stroke:0.15px #3a4150;">Manual tests at 02 Aug 2025 13:38</span>
<span class="t" style="left:330.00px;top:654.10px;font-size:9.6px;color:#4b5563;letter-spacing:0.128px;-webkit-text-stroke:0.1px #4b5563;">from</span>
<span class="t" style="left:352.50px;top:654.10px;font-size:9.5px;color:#2f3540;font-weight:700;letter-spacing:-0.066px;">Custom Selection</span>
<span class="t" style="left:444.70px;top:654.10px;font-size:9.5px;color:#868b95;letter-spacing:0.153px;">6/6 tests</span>
<svg style="left:83.39999999999999px;top:693.5px" width="9.4" height="9.4" viewBox="0 0 10 10"><circle cx="5" cy="5" r="4.900" fill="#a1a6b0"/><circle cx="5" cy="4.900" r="3.300" fill="#6c7280"/><path d="M5 5 L3.300 7.700 Q5 8.500 6.700 7.700Z" fill="#fff" stroke="#fff" stroke-width=".6" stroke-linejoin="round"/></svg>
<svg style="left:100px;top:690.7px" width="15.2" height="15.2" viewBox="0 0 14 14"><rect width="14" height="14" rx="3" fill="#fdeebf"/><path d="M6.600 6.600 L11.600 8.500 L9.600 9.400 L11.700 11.500 L11 12.200 L8.900 10.100 L8 12Z" fill="#b4551a"/><path d="M7.200 2.200 V3.400 M4 3.200 L4.800 4.200 M2.200 6.400 H3.400 M3.600 9.800 L4.400 9 M10.400 3.200 L9.800 4.200" stroke="#b4551a" stroke-width="1.300" stroke-linecap="round" fill="none"/></svg>
<span class="t" style="left:121.90px;top:688.20px;font-size:12.75px;color:#3a4150;letter-spacing:0.120px;-webkit-text-stroke:0.15px #3a4150;">Merged run</span>
<span class="t" style="left:201.40px;top:688.50px;font-size:9.5px;color:#868b95;letter-spacing:0.147px;">76/76 tests</span>
</div>
<!-- RIGHT PANEL -->
<div class="a" id="rightbg"></div>
<div class="a" id="right">
<div class="a" style="left:480.500px;top:10.600px;width:28px;height:27.800px;border-radius:5px 0 0 5px;background:#fff"></div>
<svg style="left:489.400px;top:19.500px" width="10" height="10" viewBox="0 0 10 10"><path d="M0.600 0.600 L9.400 9.400 M9.400 0.600 L0.600 9.400" stroke="#383838" stroke-width="1.200" fill="none"/></svg>
<div class="a" style="left:511.200px;top:347.800px;width:3.400px;height:27.400px;border-radius:2px;background:#5a5a5a"></div>
<svg style="left:508px;top:45px" width="772" height="4" viewBox="0 0 772 4"><path d="M0 1.800 H772" stroke="#ececec" stroke-width="1"/></svg>
<span class="t" style="left:530.80px;top:14.20px;font-size:10.5px;color:#555b66;letter-spacing:0.268px;">RunGroup</span>
<span class="t" style="left:585.00px;top:14.20px;font-size:10.5px;color:#3f444d;font-weight:700;letter-spacing:0.682px;">#13a335c6</span>
<div class="a" style="left:747px;top:9.800px;width:177px;height:28.200px;border-radius:5.500px;background:#fff;border:1.200px solid #bdc2f5"></div>
<svg style="left:757px;top:17px" width="14" height="14" viewBox="0 0 14 14"><path d="M4.400 1.500 Q5 5.700 8.400 6.400 Q5 7.100 4.400 11.300 Q3.800 7.100 0.400 6.400 Q3.800 5.700 4.400 1.500Z" fill="#463cc8"/><path d="M11.400 0.300 Q11.700 2.500 13.300 2.900 Q11.700 3.300 11.400 5.500 Q11.100 3.300 9.500 2.900 Q11.100 2.500 11.400 0.300Z" fill="#463cc8"/><path d="M10.200 8.700 Q10.500 10.850 12.100 11.250 Q10.500 11.650 10.200 13.800 Q9.900 11.650 8.300 11.250 Q9.900 10.850 10.200 8.700Z" fill="#463cc8"/></svg>
<span class="t" style="left:778.70px;top:14.30px;font-size:11.3px;color:#4840c8;letter-spacing:0.094px;-webkit-text-stroke:0.4px #4840c8;">Rungroup Statistic Report</span>
<div class="a" style="left:933.200px;top:10px;width:105.500px;height:28px;border-radius:5.500px;background:#6467f0"></div>
<svg style="left:948px;top:19.400px" width="8" height="10" viewBox="0 0 8 10"><path d="M0.600 0.600 L7.600 5 L0.600 9.400Z" fill="#fff"/></svg>
<span class="t" style="left:965.60px;top:14.30px;font-size:11.5px;color:#fff;letter-spacing:-0.212px;-webkit-text-stroke:0.3px #fff;">Manual Run</span>
<div class="a" style="left:1048px;top:10px;width:135.500px;height:28px;border-radius:5.500px;background:#6467f0"></div>
<svg style="left:1059px;top:18px" width="14" height="12" viewBox="0 0 14 12"><path d="M0.900 0.100 V11.200 H13.200" fill="none" stroke="#fff" stroke-width="1.800"/><path d="M4.100 10 V4.800 M7.600 10 V2.500 M11.100 10 V7" stroke="#fff" stroke-width="2" fill="none"/></svg>
<span class="t" style="left:1080.30px;top:14.30px;font-size:11.5px;color:#fff;letter-spacing:-0.049px;-webkit-text-stroke:0.3px #fff;">Combined Report</span>
<svg style="left:0;top:0;filter:drop-shadow(0 1px 1.500px rgba(0,0,0,.2))" width="1280" height="60" viewBox="0 0 1280 60"><rect x="1044.300" y="3.700" width="143.250" height="40.500" rx="0.300" fill="none" stroke="#f5333f" stroke-width="2.400"/><circle cx="1188.200" cy="42.700" r="7.800" fill="#f5333f"/></svg>
<span class="t" style="left:1185.04px;top:32.70px;font-size:11px;color:#fff;font-weight:700;">2</span>
<div class="a" style="left:1192.800px;top:10.400px;width:26.700px;height:27px;border-radius:5px;background:#fafafa;border:1px solid #e4e4e4"></div>
<svg style="left:1199.250px;top:17.200px" width="14" height="14" viewBox="0 0 14 14"><circle cx="2.700" cy="7" r="1.350" fill="#333"/><circle cx="7" cy="7" r="1.350" fill="#333"/><circle cx="11.300" cy="7" r="1.350" fill="#333"/></svg>
<svg style="left:1238.400px;top:19.600px" width="10" height="10" viewBox="0 0 10 10"><path d="M0.700 0.700 L9.300 9.300 M9.300 0.700 L0.700 9.300" stroke="#333" stroke-width="1.300" fill="none"/></svg>
<svg style="left:535px;top:67.900px" width="15" height="15" viewBox="0 0 24 24"><path d="M10 4H4c-1.100 0-1.990.900-1.990 2L2 18c0 1.100.900 2 2 2h16c1.100 0 2-.900 2-2V8c0-1.100-.900-2-2-2h-8l-2-2z" fill="#0a0a0a"/></svg>
<span class="t" style="left:556.70px;top:64.90px;font-size:15.75px;color:#2f3747;letter-spacing:-0.160px;-webkit-text-stroke:0.6px #2f3747;">Build: Version 7.15</span>
<div class="a" style="left:545.5px;top:112.2px;width:9.400px;height:9.400px;border-radius:50%;background:#ecc545"></div>
<span class="t" style="left:557.60px;top:107.60px;font-size:9.25px;color:#444;letter-spacing:-0.005px;">Skipped</span>
<div class="a" style="left:599.0px;top:112.2px;width:9.400px;height:9.400px;border-radius:50%;background:#3fb36d"></div>
<span class="t" style="left:610.70px;top:107.60px;font-size:9.25px;color:#444;letter-spacing:-0.077px;">Passed</span>
<div class="a" style="left:649.0px;top:112.2px;width:9.400px;height:9.400px;border-radius:50%;background:#e5565d"></div>
<span class="t" style="left:661.00px;top:107.60px;font-size:9.25px;color:#444;letter-spacing:-0.117px;">Failed</span>
<svg style="left:0;top:0" width="1280" height="400" viewBox="0 0 1280 400"><path d="M544 124.800 H838" stroke="#dce0ea" stroke-width="1.700" fill="none"/><path d="M832 119.600 L838.600 124.800 L832 130" stroke="#d9dde8" stroke-width="1.300" fill="none"/><path d="M565.200 346.2 H856.500" stroke="#ececec" stroke-width="1.100"/><path d="M565.200 312.9 H856.500" stroke="#ececec" stroke-width="1.100"/><path d="M565.200 279.5 H856.500" stroke="#ececec" stroke-width="1.100"/><path d="M565.200 246.2 H856.500" stroke="#ececec" stroke-width="1.100"/><path d="M565.200 212.9 H856.500" stroke="#ececec" stroke-width="1.100"/><path d="M565.200 179.6 H856.500" stroke="#ececec" stroke-width="1.100"/><path d="M565.200 146.2 H856.500" stroke="#ececec" stroke-width="1.100"/><path d="M565.2 346.2 V350.2" stroke="#dcdcdc" stroke-width="1"/><path d="M662.2 346.2 V350.2" stroke="#dcdcdc" stroke-width="1"/><path d="M759.2 346.2 V350.2" stroke="#dcdcdc" stroke-width="1"/><path d="M856.2 346.2 V350.2" stroke="#dcdcdc" stroke-width="1"/><path d="M565.2 346.2 C601.1 346.2 626.3 346.2 662.2 346.2 C698.1 346.2 723.3 326.2 759.2 326.2 C795.1 326.2 820.3 326.2 856.2 326.2" fill="none" stroke="#efcf5c" stroke-width="3.600" stroke-linecap="round"/><path d="M565.2 246.2 C601.1 246.2 626.3 146.2 662.2 146.2 C698.1 146.2 723.3 226.2 759.2 226.2 C795.1 226.2 820.3 339.5 856.2 339.5" fill="none" stroke="#5fc083" stroke-width="3.600" stroke-linecap="round"/><path d="M565.2 346.2 C601.1 346.2 626.3 186.2 662.2 186.2 C698.1 186.2 723.3 266.2 759.2 266.2 C795.1 266.2 820.3 346.2 856.2 346.2" fill="none" stroke="#ea7479" stroke-width="3.600" stroke-linecap="round"/></svg>
<div class="a" style="left:558.75px;top:338.2px;width:12.5px;height:13.200px;border:1px solid #fff;background:#ecc545;border-radius:2.500px"></div>
<span class="t" style="left:562.49px;top:335.00px;font-size:9px;color:#fff;font-weight:700;">0</span>
<div class="a" style="left:655.95px;top:338.2px;width:12.5px;height:13.200px;border:1px solid #fff;background:#ecc545;border-radius:2.500px"></div>
<span class="t" style="left:659.69px;top:335.00px;font-size:9px;color:#fff;font-weight:700;">0</span>
<div class="a" style="left:752.95px;top:318.205px;width:12.5px;height:13.200px;border:1px solid #fff;background:#ecc545;border-radius:2.500px"></div>
<span class="t" style="left:756.69px;top:315.00px;font-size:9px;color:#fff;font-weight:700;">3</span>
<div class="a" style="left:850.35px;top:318.205px;width:12.5px;height:13.200px;border:1px solid #fff;background:#ecc545;border-radius:2.500px"></div>
<span class="t" style="left:854.09px;top:315.00px;font-size:9px;color:#fff;font-weight:700;">3</span>
<div class="a" style="left:556.15px;top:238.225px;width:17.9px;height:13.200px;border:1px solid #fff;background:#3fb36d;border-radius:2.500px"></div>
<span class="t" style="left:560.09px;top:235.02px;font-size:9px;color:#fff;font-weight:700;">15</span>
<div class="a" style="left:653.15px;top:138.25px;width:17.9px;height:13.200px;border:1px solid #fff;background:#3fb36d;border-radius:2.500px"></div>
<span class="t" style="left:657.09px;top:135.05px;font-size:9px;color:#fff;font-weight:700;">30</span>
<div class="a" style="left:750.15px;top:218.23px;width:17.9px;height:13.200px;border:1px solid #fff;background:#3fb36d;border-radius:2.500px"></div>
<span class="t" style="left:754.09px;top:215.03px;font-size:9px;color:#fff;font-weight:700;">18</span>
<div class="a" style="left:850.35px;top:331.53499999999997px;width:12.5px;height:13.200px;border:1px solid #fff;background:#3fb36d;border-radius:2.500px"></div>
<span class="t" style="left:854.09px;top:328.33px;font-size:9px;color:#fff;font-weight:700;">1</span>
<div class="a" style="left:558.75px;top:338.2px;width:12.5px;height:13.200px;border:1px solid #fff;background:#e5565d;border-radius:2.500px"></div>
<span class="t" style="left:562.49px;top:335.00px;font-size:9px;color:#fff;font-weight:700;">0</span>
<div class="a" style="left:653.15px;top:178.23999999999998px;width:17.9px;height:13.200px;border:1px solid #fff;background:#e5565d;border-radius:2.500px"></div>
<span class="t" style="left:657.09px;top:175.04px;font-size:9px;color:#fff;font-weight:700;">24</span>
<div class="a" style="left:750.15px;top:258.21999999999997px;width:17.9px;height:13.200px;border:1px solid #fff;background:#e5565d;border-radius:2.500px"></div>
<span class="t" style="left:754.09px;top:255.02px;font-size:9px;color:#fff;font-weight:700;">12</span>
<div class="a" style="left:850.35px;top:338.2px;width:12.5px;height:13.200px;border:1px solid #fff;background:#e5565d;border-radius:2.500px"></div>
<span class="t" style="left:854.09px;top:335.00px;font-size:9px;color:#fff;font-weight:700;">0</span>
<span class="t" style="left:553.01px;top:335.40px;font-size:8.25px;color:#555;">0</span>
<span class="t" style="left:553.01px;top:302.07px;font-size:8.25px;color:#555;">5</span>
<span class="t" style="left:548.41px;top:268.75px;font-size:8.25px;color:#555;">10</span>
<span class="t" style="left:548.41px;top:235.42px;font-size:8.25px;color:#555;">15</span>
<span class="t" style="left:548.41px;top:202.10px;font-size:8.25px;color:#555;">20</span>
<span class="t" style="left:548.41px;top:168.77px;font-size:8.25px;color:#555;">25</span>
<span class="t" style="left:548.41px;top:135.45px;font-size:8.25px;color:#555;">30</span>
<span class="t" style="left:542.10px;top:351.80px;font-size:9.25px;color:#444;letter-spacing:-0.010px;">07/15/2025</span>
<span class="t" style="left:639.10px;top:351.80px;font-size:9.25px;color:#444;letter-spacing:-0.010px;">07/16/2025</span>
<span class="t" style="left:736.10px;top:351.80px;font-size:9.25px;color:#444;letter-spacing:-0.010px;">08/23/2025</span>
<span class="t" style="left:833.10px;top:351.80px;font-size:9.25px;color:#444;letter-spacing:-0.010px;">08/25/2025</span>
<div class="a" style="left:900.800px;top:98.700px;width:353.600px;height:45.700px;background:#f3f5fd"></div>
<div class="a" style="left:900.800px;top:191.800px;width:353.600px;height:30.600px;background:#f3f5fd"></div>
<span class="t" style="left:913.20px;top:102.50px;font-size:11.5px;color:#6b7079;letter-spacing:-0.085px;">Status</span>
<span class="t" style="left:913.20px;top:149.40px;font-size:11.5px;color:#6b7079;letter-spacing:-0.009px;">Tests</span>
<span class="t" style="left:913.20px;top:195.60px;font-size:11.5px;color:#6b7079;letter-spacing:-0.012px;">Updated</span>
<span class="t" style="left:913.20px;top:226.60px;font-size:11.5px;color:#6b7079;letter-spacing:-0.590px;">Runs</span>
<div class="a" style="left:1027.600px;top:114.300px;width:4px;height:4px;border-radius:50%;background:#ef3b45"></div>
<span class="t" style="left:1036.00px;top:106.00px;font-size:11px;color:#ef3340;font-weight:700;letter-spacing:-0.521px;">FAILED</span>
<span class="t" style="left:1075.70px;top:106.00px;font-size:11.5px;color:#6b7079;letter-spacing:-0.129px;">based on</span>
<span class="t" style="left:1126.30px;top:106.00px;font-size:11.5px;color:#4b5160;font-weight:700;letter-spacing:-0.606px;">4</span>
<span class="t" style="left:1135.80px;top:106.00px;font-size:11.5px;color:#6b7079;letter-spacing:0.019px;">runs with</span>
<span class="t" style="left:1186.00px;top:106.00px;font-size:11.5px;color:#4b5160;font-weight:700;letter-spacing:-0.220px;">realistic</span>
<span class="t" style="left:1027.40px;top:121.30px;font-size:11.5px;color:#6b7079;letter-spacing:-0.053px;">strategy</span>
<span class="t" style="left:1027.40px;top:151.70px;font-size:11.5px;color:#1f2430;font-weight:700;letter-spacing:-0.307px;">69 :</span>
<svg style="left:1056.9px;top:156.8px" width="9.2" height="9.2" viewBox="0 0 10 10"><circle cx="5" cy="5" r="5" fill="#10b27a"/><path d="M2.700 5.200 L4.300 6.800 L7.400 3.500" fill="none" stroke="#fff" stroke-width="1.300" stroke-linecap="round" stroke-linejoin="round"/></svg>
<span class="t" style="left:1070.80px;top:151.70px;font-size:11.5px;color:#10b27a;font-weight:700;letter-spacing:0.402px;">42</span>
<span class="t" style="left:1087.50px;top:151.70px;font-size:11.5px;color:#10b27a;letter-spacing:-0.199px;">passed</span>
<svg style="left:1143.6000000000001px;top:156.8px" width="9.2" height="9.2" viewBox="0 0 10 10"><circle cx="5" cy="5" r="5" fill="#ef3b45"/><path d="M2.600 5 H7.400" stroke="#fff" stroke-width="1.500" stroke-linecap="round"/></svg>
<span class="t" style="left:1157.50px;top:151.70px;font-size:11.5px;color:#ef3b45;font-weight:700;letter-spacing:0.102px;">24</span>
<span class="t" style="left:1174.00px;top:151.70px;font-size:11.5px;color:#ef3b45;">failed</span>
<svg style="left:1221.1000000000001px;top:156.8px" width="9.2" height="9.2" viewBox="0 0 10 10"><circle cx="5" cy="5" r="3.300" fill="#fff" stroke="#f59e0b" stroke-width="3.300"/></svg>
<span class="t" style="left:1235.30px;top:151.70px;font-size:11.5px;color:#f59e0b;font-weight:700;letter-spacing:-0.206px;">3</span>
<span class="t" style="left:1027.40px;top:167.30px;font-size:11.5px;color:#f59e0b;letter-spacing:-0.006px;">skipped</span>
<span class="t" style="left:1027.40px;top:198.50px;font-size:11.5px;color:#2a2f3a;letter-spacing:-0.112px;-webkit-text-stroke:0.3px #2a2f3a;">a month ago</span>
<span class="t" style="left:1027.40px;top:229.50px;font-size:11.5px;color:#2a2f3a;letter-spacing:-0.078px;-webkit-text-stroke:0.3px #2a2f3a;">4 runs</span>
<span class="t" style="left:1069.00px;top:229.50px;font-size:11.5px;color:#6b7079;letter-spacing:-0.157px;">(+1 archived)</span>
<div class="a" style="left:1127.300px;top:386.300px;width:102px;height:21.600px;border-radius:6px;background:#fafafa;border:1px solid #dfdfdf"></div>
<svg style="left:1135px;top:391.600px" width="11" height="11" viewBox="0 0 11 11"><rect x="0.600" y="0.600" width="8.600" height="8" rx="1" fill="none" stroke="#333" stroke-width="1.100"/><path d="M0.600 3.200 H9.200 M0.600 5.800 H6 M3.600 3.200 V8.600 M6.400 3.200 V5.500" stroke="#333" stroke-width="1" fill="none"/><circle cx="8.600" cy="8.600" r="2.300" fill="#333" stroke="#fafafa" stroke-width=".8"/></svg>
<span class="t" style="left:1152.80px;top:387.20px;font-size:11.5px;color:#3f3f3f;letter-spacing:0.025px;-webkit-text-stroke:0.2px #3f3f3f;">Custom view</span>
<svg style="left:1237.800px;top:391.500px" width="11" height="11" viewBox="0 0 11 11"><path d="M0 3 H11 M0 8 H11" stroke="#c2c4c9" stroke-width="1"/><circle cx="7.300" cy="3" r="1.500" fill="#fff" stroke="#c2c4c9" stroke-width="1"/><circle cx="3.700" cy="8" r="1.500" fill="#fff" stroke="#c2c4c9" stroke-width="1"/></svg>
<svg style="left:546.0px;top:432.9px" width="9.2" height="9.2" viewBox="0 0 10 10"><circle cx="5" cy="5" r="5" fill="#10b27a"/><path d="M2.700 5.200 L4.300 6.800 L7.400 3.500" fill="none" stroke="#fff" stroke-width="1.300" stroke-linecap="round" stroke-linejoin="round"/></svg>
<svg style="left:562.6px;top:430.0px" width="15.2" height="15.2" viewBox="0 0 14 14"><rect width="14" height="14" rx="3" fill="#e3effd"/><path d="M7.800 2.670 A4.600 4.600 0 0 1 11.530 6.400" fill="none" stroke="#2468ab" stroke-width="1.350" stroke-linecap="round"/><path d="M6.200 11.730 A4.600 4.600 0 0 1 2.470 8" fill="none" stroke="#2468ab" stroke-width="1.350" stroke-linecap="round"/><path d="M2.100 4.900 H5.200" stroke="#2468ab" stroke-width="1.400" fill="none"/><path d="M4.600 2.900 L7.400 4.900 L4.600 6.900Z" fill="#2468ab"/><path d="M12 9.600 H8.900" stroke="#2468ab" stroke-width="1.400" fill="none"/><path d="M9.500 7.600 L6.700 9.600 L9.500 11.600Z" fill="#2468ab"/></svg>
<span class="t" style="left:584.40px;top:427.50px;font-size:12.75px;color:#3a4150;letter-spacing:0.046px;-webkit-text-stroke:0.15px #3a4150;">test relaunch (Relaunch)</span>
<div class="a" style="left:736.9px;top:430.8px;width:43.4px;height:13.4px;border-radius:7px;background:#e8e9ee"></div><svg style="left:742.8px;top:431.6px" width="11.800" height="11.800" viewBox="0 0 24 24"><path d="M19.140 12.940c.040-.300.060-.610.060-.940 0-.320-.020-.640-.070-.940l2.030-1.580c.180-.140.230-.410.120-.610l-1.920-3.320c-.120-.220-.370-.290-.590-.220l-2.390.960c-.500-.380-1.030-.700-1.620-.940l-.360-2.540c-.040-.240-.240-.410-.480-.410h-3.840c-.240 0-.430.170-.470.410l-.360 2.540c-.590.240-1.130.570-1.620.940l-2.390-.960c-.220-.080-.470 0-.590.220L2.740 8.870c-.120.210-.080.470.120.610l2.030 1.580c-.050.300-.090.630-.090.940s.020.640.070.940l-2.030 1.580c-.180.140-.230.410-.120.610l1.920 3.320c.120.220.370.290.590.220l2.390-.960c.500.380 1.030.700 1.620.940l.360 2.540c.050.240.240.410.480.410h3.840c.240 0 .440-.170.470-.410l.360-2.540c.590-.240 1.130-.560 1.620-.940l2.390.960c.220.080.470 0 .590-.220l1.920-3.320c.120-.220.070-.470-.120-.610l-2.010-1.580zM12 15.600c-1.980 0-3.600-1.620-3.600-3.600s1.620-3.600 3.600-3.600 3.600 1.620 3.600 3.600-1.620 3.600-3.600 3.600z" fill="#555b6b"/></svg><span class="t" style="left:757.90px;top:428.20px;font-size:10px;color:#596070;letter-spacing:-0.031px;">test</span>
<span class="t" style="left:787.20px;top:427.80px;font-size:9.5px;color:#868b95;letter-spacing:0.114px;">4 tests</span>
<div class="a" style="left:947px;top:431.2px;width:31px;height:12.600px;border-radius:6.500px;background:#a7f3d0"></div><span class="t" style="left:959.88px;top:427.70px;font-size:9.75px;color:#0a9a69;font-weight:700;">1</span>
<div class="a" style="left:981px;top:431.2px;width:31px;height:12.600px;border-radius:6.500px;background:#ffecec"></div><span class="t" style="left:993.88px;top:427.70px;font-size:9.75px;color:#fbc4c6;">0</span>
<div class="a" style="left:1015px;top:431.2px;width:31px;height:12.600px;border-radius:6.500px;background:#fde68a"></div><span class="t" style="left:1027.88px;top:427.70px;font-size:9.75px;color:#f0960c;font-weight:700;">3</span>
<svg style="left:1092px;top:430.6px" width="16" height="16" viewBox="0 0 22 22"><circle cx="11" cy="11" r="9.900" fill="#fff" stroke="#222" stroke-width="1.500"/><path d="M5.500 6 H12.400 V16.600 H9.400 V8.600 H5.500Z" fill="#1a1a1a"/><rect x="13" y="6" width="1.300" height="4.600" fill="#8b93f8"/><rect x="14.800" y="6" width="1" height="2.600" fill="#222"/></svg>
<span class="t" style="left:1141.25px;top:427.00px;font-size:9.75px;color:#6b7280;line-height:12px;height:12px;letter-spacing:-0.012px;-webkit-text-stroke:0.1px #6b7280;">Aug 25, 2025 1:04</span>
<span class="t" style="left:1173.75px;top:436.20px;font-size:9.75px;color:#6b7280;line-height:12px;height:12px;letter-spacing:-0.062px;-webkit-text-stroke:0.1px #6b7280;">PM</span>
<div class="a" style="left:1232.700px;top:426.7px;width:21.300px;height:21.400px;border-radius:5.500px;background:#fafafa;border:1px solid #e0e0e0"></div>
<svg style="left:1237.350px;top:431.5px" width="12" height="12" viewBox="0 0 12 12"><circle cx="2.600" cy="6" r="1.150" fill="#333"/><circle cx="6" cy="6" r="1.150" fill="#333"/><circle cx="9.400" cy="6" r="1.150" fill="#333"/></svg>
<svg style="left:546.0px;top:467.29999999999995px" width="9.2" height="9.2" viewBox="0 0 10 10"><circle cx="5" cy="5" r="5" fill="#ef3b45"/><path d="M2.600 5 H7.400" stroke="#fff" stroke-width="1.500" stroke-linecap="round"/></svg>
<svg style="left:562.6px;top:464.4px" width="15.2" height="15.2" viewBox="0 0 14 14"><rect width="14" height="14" rx="3" fill="#e3effd"/><path d="M7.800 2.670 A4.600 4.600 0 0 1 11.530 6.400" fill="none" stroke="#2468ab" stroke-width="1.350" stroke-linecap="round"/><path d="M6.200 11.730 A4.600 4.600 0 0 1 2.470 8" fill="none" stroke="#2468ab" stroke-width="1.350" stroke-linecap="round"/><path d="M2.100 4.900 H5.200" stroke="#2468ab" stroke-width="1.400" fill="none"/><path d="M4.600 2.900 L7.400 4.900 L4.600 6.900Z" fill="#2468ab"/><path d="M12 9.600 H8.900" stroke="#2468ab" stroke-width="1.400" fill="none"/><path d="M9.500 7.600 L6.700 9.600 L9.500 11.600Z" fill="#2468ab"/></svg>
<span class="t" style="left:584.40px;top:461.90px;font-size:12.75px;color:#3a4150;-webkit-text-stroke:0.15px #3a4150;">Manual &amp; automated run (Relaunch)</span>
<span class="t" style="left:797.50px;top:462.20px;font-size:9.6px;color:#4b5563;letter-spacing:0.178px;-webkit-text-stroke:0.1px #4b5563;">from</span>
<span class="t" style="left:820.60px;top:462.20px;font-size:9.5px;color:#2f3540;font-weight:700;letter-spacing:-0.069px;">Mixed plan</span>
<div class="a" style="left:882.2px;top:465.2px;width:43.4px;height:13.4px;border-radius:7px;background:#e8e9ee"></div><svg style="left:888.1px;top:466.0px" width="11.800" height="11.800" viewBox="0 0 24 24"><path d="M19.140 12.940c.040-.300.060-.610.060-.940 0-.320-.020-.640-.070-.940l2.030-1.580c.180-.140.230-.410.120-.610l-1.920-3.320c-.120-.220-.370-.290-.590-.220l-2.390.960c-.500-.380-1.030-.700-1.620-.940l-.360-2.540c-.040-.240-.240-.410-.480-.410h-3.840c-.240 0-.430.170-.470.410l-.360 2.540c-.590.240-1.130.570-1.620.940l-2.390-.960c-.220-.080-.470 0-.590.220L2.740 8.870c-.120.210-.080.470.120.610l2.030 1.580c-.050.300-.090.630-.090.940s.020.640.070.940l-2.030 1.580c-.180.140-.230.410-.120.610l1.920 3.320c.120.220.370.290.590.220l2.390-.960c.500.380 1.030.700 1.620.940l.360 2.540c.050.240.240.410.480.410h3.840c.240 0 .440-.170.470-.410l.360-2.540c.590-.240 1.130-.560 1.620-.940l2.390.960c.220.080.470 0 .590-.220l1.920-3.320c.120-.220.070-.470-.120-.610l-2.010-1.580zM12 15.600c-1.980 0-3.600-1.620-3.600-3.600s1.620-3.600 3.600-3.600 3.600 1.620 3.600 3.600-1.620 3.600-3.600 3.600z" fill="#555b6b"/></svg><span class="t" style="left:903.20px;top:462.60px;font-size:10px;color:#596070;letter-spacing:-0.031px;">test</span>
<span class="t" style="left:931.80px;top:462.20px;font-size:9.5px;color:#868b95;letter-spacing:0.203px;">3</span>
<div class="a" style="left:947px;top:465.59999999999997px;width:31px;height:12.600px;border-radius:6.500px;background:#a7f3d0"></div><span class="t" style="left:957.85px;top:462.10px;font-size:9.75px;color:#0a9a69;font-weight:700;letter-spacing:-0.680px;">18</span>
<div class="a" style="left:981px;top:465.59999999999997px;width:31px;height:12.600px;border-radius:6.500px;background:#fecaca"></div><span class="t" style="left:991.85px;top:462.10px;font-size:9.75px;color:#e3323c;font-weight:700;letter-spacing:-0.680px;">12</span>
<div class="a" style="left:1015px;top:465.59999999999997px;width:31px;height:12.600px;border-radius:6.500px;background:#fde68a"></div><span class="t" style="left:1027.88px;top:462.10px;font-size:9.75px;color:#f0960c;font-weight:700;">3</span>
<svg style="left:1092px;top:465.0px" width="16" height="16" viewBox="0 0 22 22"><circle cx="11" cy="11" r="10.600" fill="#111"/><path d="M5.500 6 H12.400 V16.600 H9.400 V8.600 H5.500Z" fill="#fff"/><rect x="13" y="6" width="1.300" height="4.600" fill="#8b93f8"/><rect x="14.800" y="6" width="1" height="2.600" fill="#fff"/></svg>
<span class="t" style="left:1141.25px;top:461.40px;font-size:9.75px;color:#6b7280;line-height:12px;height:12px;letter-spacing:-0.012px;-webkit-text-stroke:0.1px #6b7280;">Aug 23, 2025 5:57</span>
<span class="t" style="left:1173.75px;top:470.60px;font-size:9.75px;color:#6b7280;line-height:12px;height:12px;letter-spacing:-0.062px;-webkit-text-stroke:0.1px #6b7280;">PM</span>
<div class="a" style="left:1232.700px;top:461.09999999999997px;width:21.300px;height:21.400px;border-radius:5.500px;background:#fafafa;border:1px solid #e0e0e0"></div>
<svg style="left:1237.350px;top:465.9px" width="12" height="12" viewBox="0 0 12 12"><circle cx="2.600" cy="6" r="1.150" fill="#333"/><circle cx="6" cy="6" r="1.150" fill="#333"/><circle cx="9.400" cy="6" r="1.150" fill="#333"/></svg>
<svg style="left:546.0px;top:501.7px" width="9.2" height="9.2" viewBox="0 0 10 10"><circle cx="5" cy="5" r="5" fill="#ef3b45"/><path d="M2.600 5 H7.400" stroke="#fff" stroke-width="1.500" stroke-linecap="round"/></svg>
<svg style="left:562.6px;top:498.8px" width="15.2" height="15.2" viewBox="0 0 14 14"><rect width="14" height="14" rx="3" fill="#f5f0ff"/><path d="M11.300 6.300 A4.500 4.500 0 1 0 6.300 11.300" fill="none" stroke="#a178ee" stroke-width="1.500" stroke-linecap="round"/><path d="M8.900 6.200 A2.100 2.100 0 1 0 6.200 8.900" fill="none" stroke="#a178ee" stroke-width="1.400" stroke-linecap="round"/><path d="M6.900 6.900 L11.400 8.500 L9.700 9.300 L11.900 11.500 L11.400 12 L9.200 9.800 L8.400 11.500Z" fill="#6a2ed8" stroke="#6a2ed8" stroke-width=".5" stroke-linejoin="round"/></svg>
<span class="t" style="left:584.40px;top:496.30px;font-size:12.75px;color:#3a4150;letter-spacing:0.031px;-webkit-text-stroke:0.15px #3a4150;">Automated run (Relaunch)</span>
<span class="t" style="left:742.20px;top:496.60px;font-size:9.6px;color:#4b5563;letter-spacing:0.178px;-webkit-text-stroke:0.1px #4b5563;">from</span>
<span class="t" style="left:765.00px;top:496.60px;font-size:9.5px;color:#2f3540;font-weight:700;letter-spacing:-0.147px;">small plan</span>
<div class="a" style="left:822.8px;top:499.6px;width:43.4px;height:13.4px;border-radius:7px;background:#e8e9ee"></div><svg style="left:828.6999999999999px;top:500.40000000000003px" width="11.800" height="11.800" viewBox="0 0 24 24"><path d="M19.140 12.940c.040-.300.060-.610.060-.940 0-.320-.020-.640-.070-.940l2.030-1.580c.180-.140.230-.410.120-.610l-1.920-3.320c-.120-.220-.370-.290-.590-.220l-2.390.960c-.500-.380-1.030-.700-1.620-.940l-.360-2.540c-.040-.240-.240-.410-.480-.410h-3.840c-.240 0-.430.170-.470.410l-.360 2.540c-.590.240-1.130.570-1.620.940l-2.390-.960c-.220-.080-.470 0-.590.220L2.740 8.870c-.120.210-.080.470.120.610l2.030 1.580c-.050.300-.090.630-.090.940s.020.640.070.940l-2.030 1.580c-.180.140-.230.410-.120.610l1.920 3.320c.120.220.370.290.590.220l2.390-.960c.500.380 1.030.700 1.620.940l.360 2.540c.050.240.240.410.480.410h3.840c.240 0 .440-.170.470-.410l.360-2.540c.590-.240 1.130-.560 1.620-.940l2.390.960c.220.080.470 0 .590-.220l1.920-3.320c.120-.220.070-.470-.120-.610l-2.010-1.580zM12 15.600c-1.980 0-3.600-1.620-3.600-3.600s1.620-3.600 3.600-3.600 3.600 1.620 3.600 3.600-1.620 3.600-3.600 3.600z" fill="#555b6b"/></svg><span class="t" style="left:843.80px;top:497.00px;font-size:10px;color:#596070;letter-spacing:-0.031px;">test</span>
<span class="t" style="left:872.80px;top:496.60px;font-size:9.5px;color:#868b95;letter-spacing:0.140px;">54 tests</span>
<div class="a" style="left:947px;top:500.0px;width:31px;height:12.600px;border-radius:6.500px;background:#a7f3d0"></div><span class="t" style="left:957.85px;top:496.50px;font-size:9.75px;color:#0a9a69;font-weight:700;letter-spacing:-0.680px;">30</span>
<div class="a" style="left:981px;top:500.0px;width:31px;height:12.600px;border-radius:6.500px;background:#fecaca"></div><span class="t" style="left:991.85px;top:496.50px;font-size:9.75px;color:#e3323c;font-weight:700;letter-spacing:-0.680px;">24</span>
<div class="a" style="left:1015px;top:500.0px;width:31px;height:12.600px;border-radius:6.500px;background:#fef3c7"></div><span class="t" style="left:1027.88px;top:496.50px;font-size:9.75px;color:#fbdc9a;">0</span>
<span class="t" style="left:1141.25px;top:495.80px;font-size:9.75px;color:#6b7280;line-height:12px;height:12px;letter-spacing:-0.041px;-webkit-text-stroke:0.1px #6b7280;">Jul 16, 2025 10:25</span>
<span class="t" style="left:1173.75px;top:505.00px;font-size:9.75px;color:#6b7280;line-height:12px;height:12px;letter-spacing:-0.062px;-webkit-text-stroke:0.1px #6b7280;">AM</span>
<div class="a" style="left:1232.700px;top:495.5px;width:21.300px;height:21.400px;border-radius:5.500px;background:#fafafa;border:1px solid #e0e0e0"></div>
<svg style="left:1237.350px;top:500.3px" width="12" height="12" viewBox="0 0 12 12"><circle cx="2.600" cy="6" r="1.150" fill="#333"/><circle cx="6" cy="6" r="1.150" fill="#333"/><circle cx="9.400" cy="6" r="1.150" fill="#333"/></svg>
<svg style="left:546.0px;top:535.6999999999999px" width="9.2" height="9.2" viewBox="0 0 10 10"><circle cx="5" cy="5" r="5" fill="#10b27a"/><path d="M2.700 5.200 L4.300 6.800 L7.400 3.500" fill="none" stroke="#fff" stroke-width="1.300" stroke-linecap="round" stroke-linejoin="round"/></svg>
<svg style="left:562.6px;top:532.8px" width="15.2" height="15.2" viewBox="0 0 14 14"><rect width="14" height="14" rx="3" fill="#fdeebf"/><path d="M6.600 6.600 L11.600 8.500 L9.600 9.400 L11.700 11.500 L11 12.200 L8.900 10.100 L8 12Z" fill="#b4551a"/><path d="M7.200 2.200 V3.400 M4 3.200 L4.800 4.200 M2.200 6.400 H3.400 M3.600 9.800 L4.400 9 M10.400 3.200 L9.800 4.200" stroke="#b4551a" stroke-width="1.300" stroke-linecap="round" fill="none"/></svg>
<span class="t" style="left:584.40px;top:530.30px;font-size:12.75px;color:#3a4150;letter-spacing:-0.010px;-webkit-text-stroke:0.15px #3a4150;">Manual run</span>
<span class="t" style="left:655.60px;top:530.60px;font-size:9.6px;color:#4b5563;letter-spacing:0.178px;-webkit-text-stroke:0.1px #4b5563;">from</span>
<span class="t" style="left:678.10px;top:530.60px;font-size:9.5px;color:#2f3540;font-weight:700;letter-spacing:-0.141px;">plan 123</span>
<span class="t" style="left:728.10px;top:530.60px;font-size:9.5px;color:#868b95;letter-spacing:-0.135px;">15 tests</span>
<div class="a" style="left:947px;top:534.0px;width:31px;height:12.600px;border-radius:6.500px;background:#a7f3d0"></div><span class="t" style="left:957.85px;top:530.50px;font-size:9.75px;color:#0a9a69;font-weight:700;letter-spacing:-0.680px;">15</span>
<div class="a" style="left:981px;top:534.0px;width:31px;height:12.600px;border-radius:6.500px;background:#ffecec"></div><span class="t" style="left:993.88px;top:530.50px;font-size:9.75px;color:#fbc4c6;">0</span>
<div class="a" style="left:1015px;top:534.0px;width:31px;height:12.600px;border-radius:6.500px;background:#fef3c7"></div><span class="t" style="left:1027.88px;top:530.50px;font-size:9.75px;color:#fbdc9a;">0</span>
<svg style="left:1092px;top:533.4px" width="16" height="16" viewBox="0 0 22 22"><circle cx="11" cy="11" r="9.900" fill="#fff" stroke="#222" stroke-width="1.500"/><path d="M5.500 6 H12.400 V16.600 H9.400 V8.600 H5.500Z" fill="#1a1a1a"/><rect x="13" y="6" width="1.300" height="4.600" fill="#8b93f8"/><rect x="14.800" y="6" width="1" height="2.600" fill="#222"/></svg>
<span class="t" style="left:1137.00px;top:534.40px;font-size:9.75px;color:#6b7280;line-height:12px;height:12px;letter-spacing:-0.158px;-webkit-text-stroke:0.1px #6b7280;">Jul 15, 2025 5:15 PM</span>
<div class="a" style="left:1232.700px;top:529.5px;width:21.300px;height:21.400px;border-radius:5.500px;background:#fafafa;border:1px solid #e0e0e0"></div>
<svg style="left:1237.350px;top:534.3px" width="12" height="12" viewBox="0 0 12 12"><circle cx="2.600" cy="6" r="1.150" fill="#333"/><circle cx="6" cy="6" r="1.150" fill="#333"/><circle cx="9.400" cy="6" r="1.150" fill="#333"/></svg>
<div class="a" style="left:534.800px;top:600.300px;width:97.200px;height:1.400px;background:#f1f2f4"></div>
<svg style="left:569px;top:600px" width="29" height="5" viewBox="0 0 29 5"><rect x="0" y="0.900" width="29" height="2.500" fill="#8183f4"/></svg>
<span class="t" style="left:547.14px;top:613.40px;font-size:11px;color:#6b7280;">«</span>
<span class="t" style="left:580.40px;top:613.60px;font-size:11.5px;color:#6366f1;-webkit-text-stroke:0.3px #6366f1;">1</span>
<span class="t" style="left:613.44px;top:613.40px;font-size:11px;color:#6b7280;">»</span>
</div>
</body>
</html>
